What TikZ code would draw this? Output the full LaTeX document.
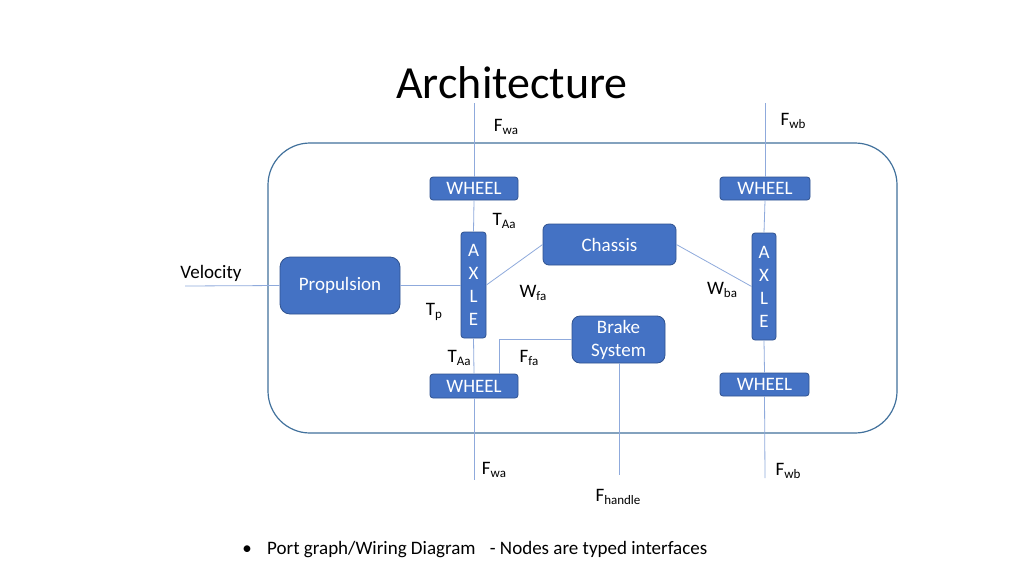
\documentclass[tikz,border=0pt]{standalone}
\usepackage{fontspec}
\setmainfont{Carlito}
\definecolor{boxfill}{HTML}{4472C4}
\definecolor{boxborder}{HTML}{2F528F}
\definecolor{wire}{HTML}{8FAADC}
\definecolor{frame}{HTML}{41719C}
\newcommand{\sublbl}[2]{#1\raisebox{-0.35ex}{\fontsize{13}{13}\selectfont #2}}
\tikzset{
  blk/.style={draw=boxborder, line width=0.8pt, fill=boxfill, text=white, inner sep=0pt,
    font=\fontsize{19}{23}\selectfont, align=center},
  wheelbox/.style={blk, rounded corners=3pt, minimum width=88pt, minimum height=23pt},
  axlebox/.style={blk, rounded corners=3pt, minimum width=25pt, minimum height=106pt},
  wire/.style={draw=wire, line width=0.8pt},
  lbl/.style={font=\fontsize{19}{22}\selectfont, inner sep=0pt, text=black}
}
\begin{document}
\begin{tikzpicture}[x=1pt,y=-1pt]
\useasboundingbox (0,0) rectangle (1024,576);
\fill[white] (0,0) rectangle (1024,576);

% title
\node[font=\fontsize{46}{50}\selectfont, inner sep=0pt] (title) at (512,83) {Architecture};

% system frame
\draw[frame, line width=1.2pt, rounded corners=42pt] (268,143) rectangle (897,433);

% blocks
\node[wheelbox] (wTL) at (474,188.5) {WHEEL};
\node[wheelbox, minimum width=90pt] (wTR) at (765,188.5) {WHEEL};
\node[wheelbox, minimum height=24pt] (wBL) at (474,386) {WHEEL};
\node[wheelbox, minimum width=89pt] (wBR) at (764.5,384.5) {WHEEL};
\node[axlebox] (axL) at (473.5,285) {A\\X\\L\\E};
\node[axlebox, minimum width=24pt, minimum height=107pt] (axR) at (764,286.5) {A\\X\\L\\E};
\node[blk, rounded corners=6pt, minimum width=133pt, minimum height=41pt] (chassis) at (609.5,244.5) {Chassis};
\node[blk, rounded corners=10pt, minimum width=120pt, minimum height=57pt] (prop) at (340,285.5) {Propulsion};
\node[blk, rounded corners=8pt, minimum width=93pt, minimum height=47pt] (brake) at (618.5,339.5) {Brake\\System};

% free ends
\coordinate (lTop) at (474,103);
\coordinate (lBot) at (474,480);
\coordinate (rTop) at (765,103);
\coordinate (rBot) at (765,478);
\coordinate (vel) at (185,286);
\coordinate (hBot) at (619,475);

% wires
\draw[wire] (lTop) -- (wTL.north);
\draw[wire] (wTL.south) -- (axL.north);
\draw[wire] (axL.south) -- (wBL.north);
\draw[wire] (wBL.south) -- (lBot);
\draw[wire] (rTop) -- (wTR.north);
\draw[wire] (wTR.south) -- (axR.north);
\draw[wire] (axR.south) -- (wBR.north);
\draw[wire] (wBR.south) -- (rBot);
\draw[wire] (vel) -- (prop.west);
\draw[wire] (prop.east) -- (axL.west |- prop.east);
\draw[wire] (axL.east) -- (chassis.west);
\draw[wire] (chassis.east) -- (axR.west);
\draw[wire] (brake.west) -| ([xshift=25pt]wBL.north);
\draw[wire] (brake.south -| hBot) -- (hBot);

% labels
\node[lbl] (lFwaT) at (506,127) {\sublbl{F}{wa}};
\node[lbl] (lFwbT) at (793,121) {\sublbl{F}{wb}};
\node[lbl] (lTAaT) at (504,221) {\sublbl{T}{Aa}};
\node[lbl] (lVel) at (211,273) {Velocity};
\node[lbl] (lWfa) at (533,293) {\sublbl{W}{fa}};
\node[lbl] (lWba) at (722,290) {\sublbl{W}{ba}};
\node[lbl] (lTp) at (434,312) {\sublbl{T}{p}};
\node[lbl] (lTAaB) at (459,358) {\sublbl{T}{Aa}};
\node[lbl] (lFfa) at (529,358) {\sublbl{F}{fa}};
\node[lbl] (lFwaB) at (494,470) {\sublbl{F}{wa}};
\node[lbl] (lFwbB) at (788,471) {\sublbl{F}{wb}};
\node[lbl] (lFh) at (618,497) {\sublbl{F}{handle}};

% bullet
\node[lbl, anchor=base] (bul) at (247,554) {\textbullet};
\node[lbl, anchor=base west] (btext) at (267,554) {Port graph/Wiring Diagram\hspace{10pt} - Nodes are typed interfaces};
\end{tikzpicture}
\end{document}
